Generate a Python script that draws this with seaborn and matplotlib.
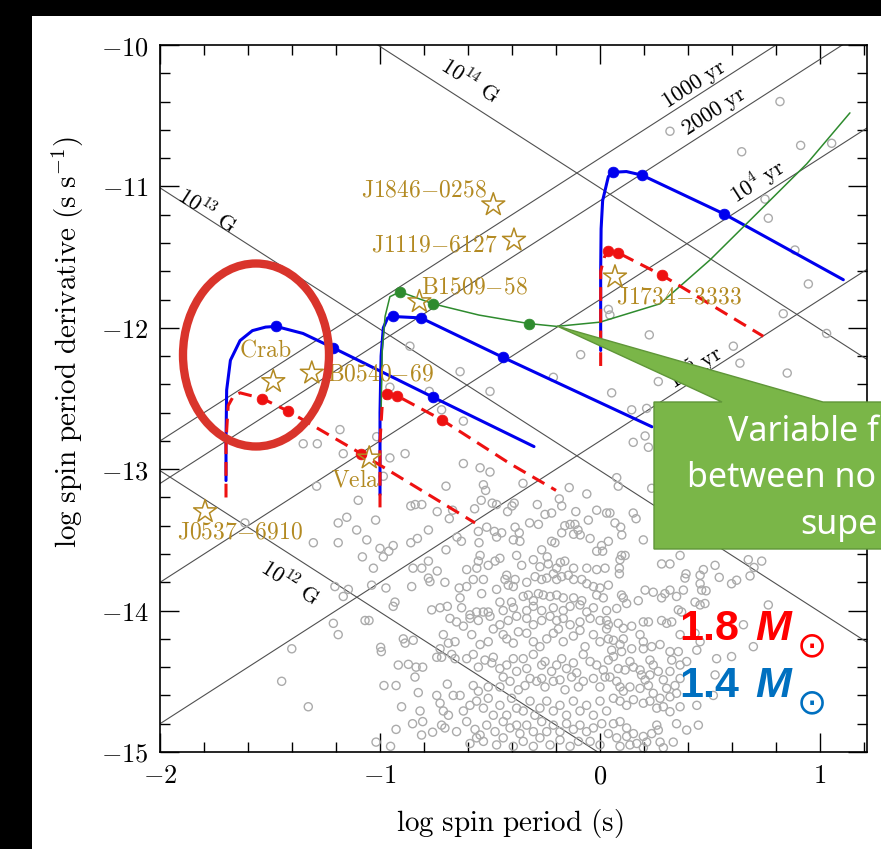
import numpy as np
import pandas as pd
import matplotlib
matplotlib.use("Agg")
import matplotlib.pyplot as plt
import seaborn as sns
from matplotlib.patches import Ellipse, Polygon, Rectangle
from matplotlib.ticker import MultipleLocator, FuncFormatter

# ---------------- data ----------------
field_lines_G = [1e12, 1e13, 1e14]
field_labels = [r"$10^{12}\ \mathrm{G}$", r"$10^{13}\ \mathrm{G}$", r"$10^{14}\ \mathrm{G}$"]
field_label_pos = [(-1.41, -13.80), (-1.786, -11.17), (-0.59, -10.25)]
age_lines_yr = [1e3, 2e3, 1e4, 1e5]
age_labels = [r"$\mathrm{1000\ yr}$", r"$\mathrm{2000\ yr}$", r"$10^4\ \mathrm{yr}$", r"$10^5\ \mathrm{yr}$"]
age_label_pos = [(0.43, -10.28), (0.52, -10.47), (0.72, -10.97), (0.43, -12.28)]

# model tracks (log P, log Pdot)
blue1_x = [-1.70, -1.70, -1.697, -1.68, -1.636, -1.58, -1.52, -1.473, -1.35, -1.215, -0.76, -0.30]
blue1_y = [-13.08, -12.80, -12.44, -12.23, -12.09, -12.02, -11.995, -11.99, -12.04, -12.14, -12.49, -12.84]
blue1_dots_x = [-1.473, -1.215, -0.76]
blue1_dots_y = [-11.99, -12.14, -12.49]
red1_x = [-1.70, -1.70, -1.69, -1.665, -1.636, -1.535, -1.417, -1.086, -0.568]
red1_y = [-13.20, -12.80, -12.55, -12.48, -12.46, -12.50, -12.59, -12.89, -13.38]
red1_dots_x = [-1.535, -1.417, -1.086]
red1_dots_y = [-12.50, -12.59, -12.89]

blue2_x = [-1.00, -1.00, -0.995, -0.985, -0.965, -0.942, -0.814, -0.44, 0.236]
blue2_y = [-13.18, -12.60, -12.20, -12.00, -11.93, -11.92, -11.93, -12.21, -12.70]
blue2_dots_x = [-0.942, -0.814, -0.44]
blue2_dots_y = [-11.92, -11.93, -12.21]
red2_x = [-1.00, -1.00, -0.99, -0.967, -0.924, -0.72, -0.41, -0.20]
red2_y = [-13.27, -12.80, -12.55, -12.47, -12.48, -12.65, -12.96, -13.15]
red2_dots_x = [-0.967, -0.924, -0.72]
red2_dots_y = [-12.47, -12.48, -12.65]

green_x = [-0.995, -0.99, -0.977, -0.955, -0.909, -0.76, -0.55, -0.324, -0.197, 0.0, 0.273, 0.50, 0.727, 0.94, 1.136]
green_y = [-12.60, -12.16, -11.92, -11.78, -11.745, -11.83, -11.91, -11.97, -11.99, -11.96, -11.83, -11.52, -11.17, -10.84, -10.48]
green_dots_x = [-0.909, -0.76, -0.324]
green_dots_y = [-11.745, -11.83, -11.97]

blue3_x = [0.003, 0.003, 0.005, 0.012, 0.038, 0.06, 0.12, 0.19, 0.564, 1.106]
blue3_y = [-12.16, -11.60, -11.30, -11.10, -10.93, -10.90, -10.895, -10.92, -11.195, -11.66]
blue3_dots_x = [0.06, 0.19, 0.564]
blue3_dots_y = [-10.90, -10.92, -11.195]
red3_x = [0.003, 0.003, 0.02, 0.038, 0.083, 0.284, 0.742]
red3_y = [-12.27, -11.60, -11.50, -11.455, -11.47, -11.63, -12.06]
red3_dots_x = [0.038, 0.083, 0.284]
red3_dots_y = [-11.455, -11.47, -11.63]

# young pulsars (stars)
star_names = ["Crab", "B0540-69", "Vela", "J0537-6910", "J1846-0258", "J1119-6127", "B1509-58", "J1734-3333"]
star_x = [-1.485, -1.31, -1.049, -1.795, -0.485, -0.391, -0.821, 0.068]
star_y = [-12.38, -12.32, -12.92, -13.30, -11.13, -11.38, -11.815, -11.64]
star_label_x = [-1.52, -1.241, -1.114, -1.636, -0.80, -0.755, -0.57, 0.358]
star_label_y = [-12.157, -12.32, -13.076, -13.444, -11.025, -11.414, -11.709, -11.78]
star_label_ha = ["center", "left", "center", "center", "center", "center", "center", "center"]

# pulsar population (log P, log Pdot)
psr_a = [(-0.70,-13.12),(-0.53,-13.11),(-0.52,-13.15),(-0.35,-13.10),(-0.14,-13.13),(-0.06,-13.175),(-1.02,-13.36),(-0.86,-13.26),(-0.84,-13.25),(-0.81,-13.25),(-0.74,-13.30),(-0.685,-13.35),(-0.67,-13.29),(-0.57,-13.28),(-0.54,-13.22),(-0.49,-13.24),(-0.47,-13.25),(-0.42,-13.30),(-0.40,-13.26),(-0.39,-13.24),(-0.285,-13.25),(-0.25,-13.32),(-0.22,-13.31),(-0.185,-13.21),(-0.174,-13.26),(-0.11,-13.30),(-0.015,-13.29),(0.03,-13.31),(-0.78,-13.43),(-1.06,-13.50),(-1.00,-13.56),(-0.96,-13.58),(-0.94,-13.54),(-0.985,-13.62),(-0.86,-13.52),(-0.83,-13.49),(-0.70,-13.57),(-0.65,-13.48),(-0.63,-13.51),(-0.553,-13.44),(-0.55,-13.52),(-0.515,-13.41),(-0.48,-13.44),(-0.447,-13.45),(-0.47,-13.48),(-0.386,-13.41),(-0.367,-13.45),(-0.394,-13.50),(-0.364,-13.51),(-0.32,-13.38),(-0.28,-13.39),(-0.22,-13.51),(-0.174,-13.45),(-0.16,-13.40),(-0.136,-13.39),(-0.114,-13.39),(-0.10,-13.43),(-0.12,-13.46),(-0.09,-13.465),(-0.045,-13.49),(-0.053,-13.36),(0.007,-13.54),(0.038,-13.51),(-0.015,-13.58),(0.012,-13.58),(-0.265,-13.57),(-0.24,-13.62),(-0.205,-13.52),(-0.18,-13.66),(-0.16,-13.65),(-1.08,-13.62),(-1.03,-13.70),(-0.85,-13.70),(-0.81,-13.70),(-0.78,-13.65),(-0.74,-13.72),(-0.606,-13.71),(-0.56,-13.70),(-0.553,-13.65),(-0.545,-13.61),(-0.508,-13.68),(-0.477,-13.65),(-0.455,-13.63),(-0.379,-13.61),(-0.356,-13.68),(-0.303,-13.64),(-0.273,-13.69),(-0.235,-13.67),(-0.197,-13.70),(-0.144,-13.75),(-0.12,-13.70),(-0.06,-13.70),(-0.015,-13.71),(0.023,-13.70),(-1.038,-13.82),(-0.973,-13.84),(-0.856,-13.83),(-0.78,-13.77),(-0.773,-13.795),(-0.705,-13.80),(-0.64,-13.84),(-0.606,-13.83),(-0.576,-13.78),(-0.53,-13.78),(-0.47,-13.85),(-0.424,-13.75),(-0.432,-13.78),(-0.417,-13.82),(-0.394,-13.83),(-0.386,-13.78),(-0.333,-13.80),(-0.295,-13.76),(-0.265,-13.78),(-0.242,-13.77),(-0.197,-13.78),(-0.174,-13.76),(-0.212,-13.74),(-0.12,-13.78),(-0.083,-13.78),(-0.06,-13.81),(-0.03,-13.83),(0.0,-13.84),(0.038,-13.82),(-0.636,-13.91),(-0.538,-13.88),(-0.455,-13.94),(-0.402,-13.94),(-0.349,-13.90),(-0.326,-13.89),(-0.303,-13.93),(-0.28,-13.88),(-0.258,-13.89),(-0.227,-13.90),(-0.197,-13.89),(-0.167,-13.91),(-0.12,-13.91),(-0.083,-13.93),(-0.015,-13.89),(0.015,-13.91),(-0.94,-13.97),(-0.932,-13.94),(-0.765,-13.995),(-0.727,-13.98),(-0.694,-13.97),(-0.629,-13.98),(-0.591,-14.03),(-0.561,-14.01),(-0.53,-14.01),(-0.508,-14.01),(-0.44,-14.0),(-0.394,-13.98),(-0.333,-14.0),(-0.303,-13.97),(-0.265,-14.0),(-0.212,-13.98),(-0.167,-14.0),(-0.136,-13.97),(-0.091,-13.96),(-0.06,-14.01),(-0.03,-13.98),(0.03,-14.0)]
psr_b = [(-1.068,-14.07),(-1.05,-14.07),(-0.682,-14.055),(-0.652,-14.08),(-0.621,-14.11),(-0.591,-14.055),(-0.553,-14.07),(-0.50,-14.04),(-0.455,-14.10),(-0.417,-14.07),(-0.379,-14.04),(-0.333,-14.055),(-0.303,-14.10),(-0.265,-14.07),(-0.227,-14.04),(-0.197,-14.07),(-0.167,-14.055),(-0.136,-14.10),(-0.091,-14.08),(-0.045,-14.055),(0.0,-14.07),(0.03,-14.13),(-0.894,-14.20),(-0.886,-14.23),(-0.849,-14.21),(-0.997,-14.26),(-0.994,-14.29),(-0.712,-14.17),(-0.689,-14.23),(-0.727,-14.27),(-0.659,-14.22),(-0.583,-14.17),(-0.545,-14.24),(-0.508,-14.22),(-0.485,-14.13),(-0.44,-14.17),(-0.424,-14.20),(-0.394,-14.23),(-0.371,-14.15),(-0.333,-14.16),(-0.303,-14.22),(-0.273,-14.255),(-0.242,-14.20),(-0.212,-14.16),(-0.189,-14.13),(-0.167,-14.22),(-0.121,-14.18),(-0.091,-14.14),(-0.068,-14.255),(-0.03,-14.17),(0.0,-14.22),(0.038,-14.20),(-0.917,-14.385),(-0.871,-14.38),(-0.836,-14.40),(-0.806,-14.40),(-0.742,-14.33),(-0.72,-14.33),(-0.674,-14.31),(-0.659,-14.34),(-0.606,-14.34),(-0.576,-14.31),(-0.553,-14.40),(-0.523,-14.35),(-0.492,-14.37),(-0.485,-14.33),(-0.455,-14.41),(-0.424,-14.385),(-0.394,-14.34),(-0.379,-14.43),(-0.349,-14.34),(-0.333,-14.41),(-0.303,-14.31),(-0.265,-14.385),(-0.25,-14.36),(-0.22,-14.43),(-0.197,-14.385),(-0.174,-14.34),(-0.152,-14.41),(-0.121,-14.37),(-0.106,-14.44),(-0.076,-14.31),(-0.045,-14.36),(-0.015,-14.385),(0.015,-14.42),(0.038,-14.35),(-0.841,-14.47),(-0.982,-14.53),(-0.927,-14.53),(-0.694,-14.52),(-0.826,-14.58),(-0.742,-14.60),(-0.667,-14.60),(-0.636,-14.60),(-0.576,-14.53),(-0.553,-14.57),(-0.508,-14.54),(-0.455,-14.54),(-0.44,-14.47),(-0.409,-14.50),(-0.371,-14.56),(-0.341,-14.53),(-0.318,-14.48),(-0.288,-14.50),(-0.265,-14.48),(-0.25,-14.54),(-0.212,-14.50),(-0.182,-14.49),(-0.159,-14.56),(-0.129,-14.47),(-0.098,-14.54),(-0.076,-14.50),(-0.03,-14.48),(0.0,-14.54),(0.023,-14.47),(-0.902,-14.68),(-0.818,-14.71),(-0.727,-14.655),(-0.712,-14.71),(-0.689,-14.74),(-0.621,-14.71),(-0.591,-14.67),(-0.561,-14.64),(-0.53,-14.69),(-0.508,-14.62),(-0.485,-14.74),(-0.455,-14.67),(-0.424,-14.74),(-0.402,-14.62),(-0.379,-14.69),(-0.349,-14.71),(-0.318,-14.64),(-0.296,-14.74),(-0.273,-14.69),(-0.242,-14.64),(-0.212,-14.71),(-0.182,-14.67),(-0.152,-14.74),(-0.121,-14.64),(-0.091,-14.71),(-0.061,-14.67),(-0.03,-14.74),(0.0,-14.64),(0.03,-14.71),(-0.852,-14.80),(-0.806,-14.785),(-0.927,-14.84),(-0.811,-14.88),(-0.761,-14.86),(-0.72,-14.81),(-0.705,-14.83),(-0.652,-14.856),(-0.606,-14.785),(-0.568,-14.84),(-0.545,-14.88),(-0.515,-14.81),(-0.477,-14.856),(-0.44,-14.785),(-0.409,-14.83),(-0.379,-14.81),(-0.364,-14.87),(-0.333,-14.81),(-0.303,-14.856),(-0.265,-14.785),(-0.242,-14.856),(-0.212,-14.81),(-0.182,-14.856),(-0.152,-14.80),(-0.121,-14.84),(-0.091,-14.81),(-0.061,-14.856),(-0.03,-14.83),(0.008,-14.80),(0.038,-14.87),(-1.018,-14.93),(-0.952,-14.96),(-0.591,-14.94),(-0.561,-14.90),(-0.53,-14.925),(-0.47,-14.95),(-0.44,-14.90),(-0.394,-14.96),(-0.349,-14.925),(-0.303,-14.96),(-0.273,-14.90),(-0.227,-14.95),(-0.182,-14.915),(-0.136,-14.96),(-0.098,-14.925),(-0.045,-14.925),(0.0,-14.95)]
psr_c = [(0.091,-13.64),(0.098,-13.61),(0.114,-13.61),(0.088,-13.70),(0.088,-13.74),(0.098,-13.89),(0.106,-13.91),(0.121,-13.95),(0.174,-13.93),(0.205,-13.855),(0.242,-13.87),(0.28,-13.91),(0.295,-13.88),(0.318,-13.855),(0.348,-13.90),(0.379,-13.855),(0.432,-13.94),(0.455,-13.96),(0.477,-13.95),(0.364,-13.61),(0.28,-13.67),(0.318,-13.67),(0.391,-13.74),(0.386,-13.77),(0.455,-13.75),(0.47,-13.71),(0.455,-13.81),(0.462,-13.855),(0.482,-13.86),(0.523,-13.68),(0.542,-13.765),(0.598,-13.81),(0.621,-13.785),(0.674,-13.64),(0.70,-13.695),(0.735,-13.65),(0.682,-13.755),(0.765,-13.96),(0.356,-13.995),(0.371,-14.01),(0.076,-13.985)]
psr_d = [(0.03,-14.07),(0.038,-14.10),(0.083,-14.09),(0.106,-14.125),(0.144,-14.11),(0.197,-14.08),(0.22,-14.08),(0.28,-14.07),(0.303,-14.09),(0.326,-14.08),(0.182,-14.17),(0.197,-14.22),(0.106,-14.20),(0.091,-14.24),(0.061,-14.21),(0.053,-14.28),(0.098,-14.29),(0.144,-14.27),(0.197,-14.27),(0.235,-14.255),(0.273,-14.24),(0.318,-14.29),(0.356,-14.29),(0.326,-14.35),(0.364,-14.385),(0.394,-14.36),(0.227,-14.35),(0.242,-14.385),(0.136,-14.36),(0.152,-14.40),(0.061,-14.325),(0.083,-14.41),(0.114,-14.42),(0.182,-14.42),(0.189,-14.455),(0.205,-14.49),(0.227,-14.455),(0.265,-14.43),(0.288,-14.49),(0.318,-14.43),(0.341,-14.53),(0.364,-14.48),(0.045,-14.47),(0.076,-14.50),(0.091,-14.54),(0.106,-14.57),(0.136,-14.54),(0.182,-14.55),(0.22,-14.53),(0.242,-14.585),(0.273,-14.62),(0.303,-14.55),(0.318,-14.61),(0.348,-14.585),(0.061,-14.62),(0.091,-14.64),(0.121,-14.67),(0.152,-14.63),(0.197,-14.655),(0.227,-14.64),(0.258,-14.69),(0.288,-14.68),(0.318,-14.715),(0.364,-14.68),(0.44,-14.67),(0.447,-14.81),(0.394,-14.845),(0.348,-14.80),(0.258,-14.81),(0.265,-14.845),(0.235,-14.87),(0.197,-14.89),(0.152,-14.87),(0.121,-14.83),(0.091,-14.785),(0.061,-14.80),(0.076,-14.90),(0.121,-14.89),(0.167,-14.94),(0.136,-14.95),(0.212,-14.93),(0.273,-14.93),(0.333,-14.93),(0.288,-14.97),(0.197,-14.97),(0.091,-14.96),(0.53,-14.34),(0.598,-14.325),(0.523,-14.455),(0.515,-14.60),(0.697,-14.255),(0.652,-14.10),(0.44,-14.28),(0.455,-14.22),(0.432,-14.16),(0.364,-14.17)]
psr_e = [(0.636,-12.25),(0.851,-12.32),(0.265,-12.38),(0.053,-12.46),(0.144,-12.58),(0.212,-12.57),(0.151,-12.81),(0.205,-12.765),(0.22,-12.845),(0.235,-13.135),(0.076,-13.06),(0.083,-13.12),(0.045,-13.31),(0.151,-13.31),(0.164,-13.35),(0.068,-13.38),(0.094,-13.41),(0.099,-13.465),(0.197,-13.50),(0.318,-10.61),(0.644,-10.755),(0.912,-10.71),(1.053,-10.695),(0.75,-11.09),(0.765,-11.225),(0.886,-11.45),(0.947,-11.69),(0.833,-11.90),(1.03,-12.04),(0.038,-11.87),(0.045,-11.91),(0.224,-12.05),(0.606,-12.13),(-0.088,-12.19),(0.818,-10.40)]
psr_f = [(-0.864,-12.13),(-0.636,-12.31),(-0.50,-12.45),(-0.621,-12.66),(-0.72,-12.58),(-1.182,-12.72),(-1.349,-12.82),(-1.285,-12.82),(-1.167,-12.89),(-1.015,-12.77),(-0.955,-12.42),(-0.886,-12.89),(-0.955,-12.92),(-0.621,-12.96),(-0.545,-12.99),(-0.50,-13.02),(-1.288,-13.12),(-1.099,-13.22),(-0.985,-13.05),(-1.19,-13.38),(-1.151,-13.34),(-1.106,-13.43),(-1.303,-13.52),(-1.614,-13.38),(-0.776,-12.45),(-0.212,-12.35),(-1.19,-13.52),(-1.205,-13.83),(-1.144,-13.85),(-1.167,-13.90),(-1.212,-14.09),(-1.19,-14.17),(-1.401,-14.27),(-1.447,-14.50),(-1.326,-14.68)]

callout_lines = ["Variable f", "between no", "supe"]

# ---------------- style ----------------
sns.set_theme(style="ticks")
plt.rcParams["font.family"] = ["DejaVu Sans"]
plt.rcParams["mathtext.fontset"] = "cm"
plt.rcParams["axes.linewidth"] = 1.2

W, H = 881, 849
fig = plt.figure(figsize=(W / 100, H / 100), dpi=100, facecolor="black")
fig.add_artist(Rectangle((32 / W, 0), 1, 1 - 16 / H, transform=fig.transFigure,
                         facecolor="white", edgecolor="none", zorder=-10))
ax = fig.add_axes([160 / W, 1 - 752 / H, (867 - 160) / W, (752 - 45) / H])
ax.set_facecolor("white")
ax.set_xlim(-2, 1.2136)
ax.set_ylim(-15, -10)

# reference lines
xx = np.array([-2.5, 1.5])
for B in field_lines_G:
    yy = 2 * (np.log10(B) - np.log10(3.2e19)) - xx
    sns.lineplot(x=xx, y=yy, ax=ax, color="#505050", linewidth=0.8, sort=False, estimator=None, zorder=1)
for age in age_lines_yr:
    yy = xx - np.log10(2 * age * 3.156e7)
    sns.lineplot(x=xx, y=yy, ax=ax, color="#505050", linewidth=0.8, sort=False, estimator=None, zorder=1)

p1 = ax.transData.transform((0, -12))
p2 = ax.transData.transform((1, -11))
ang = np.degrees(np.arctan2(p2[1] - p1[1], p2[0] - p1[0]))
for lab, (lx, ly) in zip(field_labels, field_label_pos):
    ax.text(lx, ly, lab, rotation=-ang, ha="center", va="center", fontsize=16, color="black", zorder=2)
for lab, (lx, ly) in zip(age_labels, age_label_pos):
    ax.text(lx, ly, lab, rotation=ang, ha="center", va="center", fontsize=16, color="black", zorder=2)

# population
pts = pd.DataFrame(psr_a + psr_b + psr_c + psr_d + psr_e + psr_f, columns=["logP", "logPdot"])
sns.scatterplot(data=pts, x="logP", y="logPdot", ax=ax, marker="o", s=34,
                facecolor="none", edgecolor="#ababab", linewidth=1.0, zorder=2, legend=False)

# tracks
BLUE, RED, GREEN = "#0000ee", "#ee1111", "#2e8b2e"
dash = (0, (4.5, 2.6))
for bx, by in [(blue1_x, blue1_y), (blue2_x, blue2_y), (blue3_x, blue3_y)]:
    sns.lineplot(x=bx, y=by, ax=ax, color=BLUE, linewidth=2.2, sort=False, estimator=None, zorder=4)
sns.lineplot(x=green_x, y=green_y, ax=ax, color=GREEN, linewidth=1.1, sort=False, estimator=None, zorder=4)
for rx, ry in [(red1_x, red1_y), (red2_x, red2_y), (red3_x, red3_y)]:
    sns.lineplot(x=rx, y=ry, ax=ax, color=RED, linewidth=2.2, linestyle=dash, sort=False, estimator=None, zorder=5)
for dx, dy, c in [(blue1_dots_x, blue1_dots_y, BLUE), (blue2_dots_x, blue2_dots_y, BLUE),
                  (blue3_dots_x, blue3_dots_y, BLUE), (red1_dots_x, red1_dots_y, RED),
                  (red2_dots_x, red2_dots_y, RED), (red3_dots_x, red3_dots_y, RED),
                  (green_dots_x, green_dots_y, GREEN)]:
    sns.scatterplot(x=dx, y=dy, ax=ax, color=c, s=60, edgecolor=c, linewidth=0.5, zorder=6, legend=False)

# young pulsars
GOLD = "#b38a22"
sns.scatterplot(x=star_x, y=star_y, ax=ax, marker="*", s=300, facecolor="none",
                edgecolor=GOLD, linewidth=1.1, zorder=7, legend=False)
for name, lx, ly, ha in zip(star_names, star_label_x, star_label_y, star_label_ha):
    ax.text(lx, ly, r"$\mathrm{" + name.replace("-", "{-}") + "}$", ha=ha, va="center",
            fontsize=17, color=GOLD, zorder=7)

# axes cosmetics
ax.xaxis.set_major_locator(MultipleLocator(1))
ax.xaxis.set_minor_locator(MultipleLocator(0.2))
ax.yaxis.set_major_locator(MultipleLocator(1))
ax.yaxis.set_minor_locator(MultipleLocator(0.2))
fmt = FuncFormatter(lambda v, p: r"$%d$" % round(v))
ax.xaxis.set_major_formatter(fmt)
ax.yaxis.set_major_formatter(fmt)
ax.tick_params(which="both", direction="in", top=True, right=True, colors="black", width=1.0)
ax.tick_params(which="major", length=14, labelsize=19, pad=8)
ax.tick_params(which="minor", length=7)
for s in ax.spines.values():
    s.set_visible(True)
    s.set_color("black")
ax.set_xlabel(r"$\mathrm{log\ spin\ period\ (s)}$", fontsize=21, color="black")
ax.set_ylabel(r"$\mathrm{log\ spin\ period\ derivative\ (s\ s^{-1})}$", fontsize=21, color="black")
ax.xaxis.set_label_coords(0.495, -0.078)
ax.yaxis.set_label_coords(-0.105, 0.58)

# overlay annotations
def fx(px):
    return px / W

def fy(py):
    return 1 - py / H

fig.add_artist(Ellipse((fx(256), fy(355)), 146 / W, 183 / H, transform=fig.transFigure,
                       fill=False, edgecolor="#d9342b", linewidth=6.0, zorder=20))
callout = [(654, 402), (722, 402), (557, 326), (823, 402), (900, 402), (900, 549), (654, 549)]
fig.add_artist(Polygon([(fx(a), fy(b)) for a, b in callout], closed=True, transform=fig.transFigure,
                       facecolor="#7ab648", edgecolor="#5f9638", linewidth=1.0, zorder=20))
for txt, tx, ty in zip(callout_lines, [728, 687, 800], [432, 478, 525]):
    fig.text(fx(tx), fy(ty), txt, ha="left", va="center", fontsize=24.5, color="white",
             family=["Noto Sans", "DejaVu Sans"], zorder=21)

SANS = ["Liberation Sans", "DejaVu Sans"]
for txt, col, ty, tdot in [("1.8", "#ff0000", 629, 646), ("1.4", "#0070c0", 686, 703)]:
    fig.text(fx(679), fy(ty), txt, ha="left", va="center", fontsize=31, fontweight="bold",
             color=col, family=SANS, zorder=21)
    fig.text(fx(755), fy(ty), "M", ha="left", va="center", fontsize=31, fontweight="bold",
             fontstyle="italic", color=col, family=SANS, zorder=21)
    fig.text(fx(812), fy(tdot), "\u2299", ha="center", va="center", fontsize=26,
             color=col, family=["DejaVu Sans"], zorder=21)

fig.savefig("out.png", dpi=100, facecolor="black")
